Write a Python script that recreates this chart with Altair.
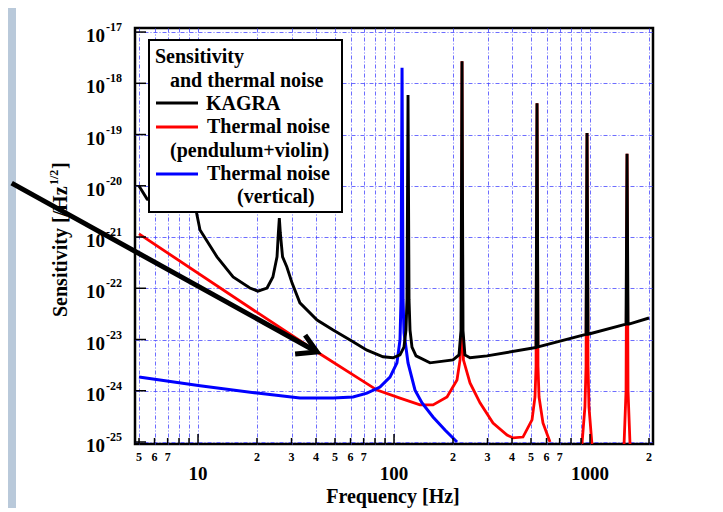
import altair as alt
import pandas as pd

FONT = "Liberation Serif"

# ---------------- data ----------------
kagra_freq = [5.0, 5.5, 7.63, 9.77, 9.88, 10.24, 12.5, 15.1, 18.4, 20.2, 22.5, 24.1, 25.3, 25.7,
              26.0, 26.3, 27.0, 28.4, 30.2, 33.1, 40.5, 48.9, 59.7, 72.8, 87.9, 98.8, 107.3, 112.4,
              115.1, 116.5, 117.9, 119.3, 120.7, 123.5, 129.5, 152.6, 200.0, 214.6, 219.7, 222.3,
              224.9, 230.0, 244.2, 298.0, 530.5, 536.6, 542.8, 942.0, 954.5, 965.6, 977.0, 988.0,
              1509.0, 1527.0, 1545.0, 1563.0, 1581.0, 2000.0]
kagra_sens = [9.9e-21, 5.5e-21, 4.4e-21, 3.4e-21, 2.7e-21, 1.37e-21, 4.1e-22, 1.66e-22, 1.01e-22,
              8.8e-23, 1.01e-22, 1.66e-22, 4.1e-22, 1.2e-21, 2.35e-21, 1.2e-21, 4.1e-22, 2.6e-22,
              1.26e-22, 5.2e-23, 2.4e-23, 1.53e-23, 9.8e-24, 6.2e-24, 4.6e-24, 4.4e-24, 5.0e-24,
              7.1e-24, 1.53e-23, 6.0e-23, 5.9e-19, 6.0e-23, 1.53e-23, 7.1e-24, 4.8e-24, 3.5e-24,
              4.0e-24, 5.0e-24, 1.5e-23, 2.7e-18, 1.5e-23, 5.0e-24, 4.4e-24, 4.8e-24, 7.0e-24,
              4.1e-19, 7.2e-24, 1.25e-23, 1.27e-23, 1.07e-19, 1.27e-23, 1.28e-23, 1.97e-23,
              2.0e-23, 4.2e-20, 2.0e-23, 2.0e-23, 2.63e-23]

vert_freq = [5.0, 10.24, 20.0, 33.1, 48.9, 61.8, 72.8, 84.8, 95.4, 103.5, 107.3, 108.6, 109.9,
             111.2, 112.5, 117.9, 128.0, 139.0, 158.1, 182.0, 209.6]
vert_sens = [1.85e-24, 1.25e-24, 9.0e-25, 7.2e-25, 7.2e-25, 7.55e-25, 9.0e-25, 1.18e-24, 1.85e-24,
             3.5e-24, 9.8e-24, 6.0e-23, 2.0e-18, 6.0e-23, 1.34e-23, 3.5e-24, 1.03e-24, 5.8e-25,
             3.07e-25, 1.71e-25, 1.0e-25]

pend_freq_a = [5.0, 20.2, 40.5, 81.9, 107.3, 135.7, 158.1, 186.4, 209.6, 217.2, 221.0, 222.3,
               223.6, 226.0, 244.2, 274.6, 320.0, 377.4, 404.6, 455.0, 506.0, 524.0, 530.5,
               536.6, 542.8, 549.5, 575.4, 625.0]
pend_sens_a = [1.15e-21, 3.3e-23, 5.7e-24, 1.03e-24, 7.2e-25, 5.3e-25, 5.3e-25, 7.55e-25,
               1.62e-24, 4.0e-24, 1.5e-23, 2.7e-18, 1.5e-23, 4.0e-24, 1.42e-24, 5.8e-25,
               2.35e-25, 1.37e-25, 1.2e-25, 1.25e-25, 2.7e-25, 7.55e-25, 3.0e-24, 4.1e-19,
               3.0e-24, 7.55e-25, 2.35e-25, 1.0e-25]
pend_freq_b = [910.0, 942.0, 954.5, 965.6, 977.0, 988.0, 1023.0]
pend_sens_b = [9.1e-26, 4.8e-25, 3.0e-24, 1.07e-19, 3.0e-24, 4.8e-25, 9.1e-26]
pend_freq_c = [1492.0, 1527.0, 1545.0, 1563.0, 1600.0]
pend_sens_c = [9.1e-26, 1.0e-24, 4.2e-20, 1.0e-24, 9.1e-26]

arrow_freq = [1.12, 40.5]
arrow_sens = [1.13e-20, 5.7e-24]
arrowhead_freq = [35.2, 40.5, 31.3]
arrowhead_sens = [1.22e-23, 5.7e-24, 5.21e-24]

grid_freq = [5, 6, 7, 8, 9, 10, 20, 30, 40, 50, 60, 70, 80, 90, 100, 200, 300, 400, 500,
             600, 700, 800, 900, 1000, 2000]
major_freq = [10, 100, 1000]
minor_freq = [f for f in grid_freq if f not in major_freq]
small_label_freq = [5, 6, 7, 20, 30, 40, 50, 60, 70, 200, 300, 400, 500, 600, 700, 2000]
small_label_text = ["5", "6", "7", "2", "3", "4", "5", "6", "7", "2", "3", "4", "5", "6", "7", "2"]
big_label_text = ["10", "100", "1000"]
decade_exp = [-25, -24, -23, -22, -21, -20, -19, -18, -17]

legend_title = ["Sensitivity", "and thermal noise"]
series_label = ["KAGRA", "Thermal noise", "Thermal noise"]
series_sub = ["", "(pendulum+violin)", "(vertical)"]
series_color = ["#000000", "#ff0000", "#0000ff"]

x_title = "Frequency [Hz]"
y_title = ["Sensitivity [/Hz", "1/2", "]"]

# ---------------- frames ----------------
def curve(f, s, seg=0):
    return pd.DataFrame({"freq": f, "sens": s, "seg": seg, "order": list(range(len(f)))})

kagra_df = curve(kagra_freq, kagra_sens)
vert_df = curve(vert_freq, vert_sens)
pend_df = pd.concat([curve(pend_freq_a, pend_sens_a, 1), curve(pend_freq_b, pend_sens_b, 2),
                     curve(pend_freq_c, pend_sens_c, 3)])
arrow_df = pd.concat([curve(arrow_freq, arrow_sens, 1), curve(arrowhead_freq, arrowhead_sens, 2)])
decade_df = pd.DataFrame({"sens": [10.0 ** e for e in decade_exp],
                          "base": ["10"] * len(decade_exp),
                          "sup": [str(e) for e in decade_exp]})
minor_df = pd.DataFrame({"freq": minor_freq})
major_df = pd.DataFrame({"freq": major_freq, "label": big_label_text})
small_lab_df = pd.DataFrame({"freq": small_label_freq, "label": small_label_text})
one = pd.DataFrame({"v": [0]})

W, H = 518, 416
x_scale = alt.Scale(type="log", domain=[4.77, 2096], nice=False)
y_scale = alt.Scale(type="log", domain=[9.14e-26, 1.2e-17], nice=False)
grid_style = dict(grid=True, labels=False, ticks=False, domain=False, title=None,
                  gridColor="#4848ff", gridDash=[4, 2, 1, 2], gridWidth=1, gridOpacity=0.8)
X = alt.X("freq:Q", scale=x_scale, axis=alt.Axis(values=grid_freq, **grid_style))
Y = alt.Y("sens:Q", scale=y_scale,
          axis=alt.Axis(values=[10.0 ** e for e in decade_exp], **grid_style))

layers = []
# slide background strip at far left
layers.append(alt.Chart(one).mark_rect(fill="#b9c9da").encode(
    x=alt.value(-127), x2=alt.value(-119), y=alt.value(-20), y2=alt.value(H + 70)))

layers.append(alt.Chart(pend_df).mark_line(color=series_color[1], strokeWidth=2.8, clip=True)
              .encode(x=X, y=Y, detail="seg:N", order="order:Q"))
layers.append(alt.Chart(vert_df).mark_line(color=series_color[2], strokeWidth=3, clip=True)
              .encode(x=X, y=Y, order="order:Q"))
layers.append(alt.Chart(kagra_df).mark_line(color=series_color[0], strokeWidth=2.9, clip=True)
              .encode(x=X, y=Y, order="order:Q"))

# inside ticks
layers.append(alt.Chart(minor_df).mark_rule(color="black", strokeWidth=1.5).encode(
    x=X, y=alt.value(H), y2=alt.value(H - 6)))
layers.append(alt.Chart(major_df).mark_rule(color="black", strokeWidth=1.5).encode(
    x=X, y=alt.value(H), y2=alt.value(H - 10)))
layers.append(alt.Chart(decade_df).mark_rule(color="black", strokeWidth=1.5).encode(
    y=Y, x=alt.value(0), x2=alt.value(11)))

# tick labels
layers.append(alt.Chart(small_lab_df).mark_text(font=FONT, fontSize=12, fontWeight="bold",
                                                baseline="middle", color="black").encode(
    x=X, y=alt.value(H + 13), text="label:N"))
layers.append(alt.Chart(major_df).mark_text(font=FONT, fontSize=19, fontWeight="bold",
                                            baseline="middle", color="black").encode(
    x=X, y=alt.value(H + 30), text="label:N"))
layers.append(alt.Chart(decade_df).mark_text(font=FONT, fontSize=19, fontWeight="bold",
                                             align="right", baseline="middle", dy=4,
                                             color="black").encode(
    y=Y, x=alt.value(-30), text="base:N"))
layers.append(alt.Chart(decade_df).mark_text(font=FONT, fontSize=12, fontWeight="bold",
                                             align="left", baseline="middle", dy=-5,
                                             color="black").encode(
    y=Y, x=alt.value(-29), text="sup:N"))

# axis titles
layers.append(alt.Chart(one).mark_text(font=FONT, fontSize=20, fontWeight="bold",
                                       align="center", baseline="alphabetic",
                                       color="black").encode(
    x=alt.value(258), y=alt.value(H + 59), text=alt.value(x_title)))
layers.append(alt.Chart(one).mark_text(font=FONT, fontSize=20, fontWeight="bold", angle=270,
                                       align="left", baseline="alphabetic",
                                       color="black").encode(
    x=alt.value(-68), y=alt.value(289), text=alt.value(y_title[0])))
layers.append(alt.Chart(one).mark_text(font=FONT, fontSize=12, fontWeight="bold", angle=270,
                                       align="left", baseline="alphabetic",
                                       color="black").encode(
    x=alt.value(-77), y=alt.value(157), text=alt.value(y_title[1])))
layers.append(alt.Chart(one).mark_text(font=FONT, fontSize=20, fontWeight="bold", angle=270,
                                       align="left", baseline="alphabetic",
                                       color="black").encode(
    x=alt.value(-68), y=alt.value(141), text=alt.value(y_title[2])))

# legend box
layers.append(alt.Chart(one).mark_rect(fill="white", stroke="black", strokeWidth=2).encode(
    x=alt.value(14), x2=alt.value(207), y=alt.value(12), y2=alt.value(184)))
legend_texts = [(legend_title[0], 20, 35), (legend_title[1], 35, 59),
                (series_label[0], 71, 82), (series_label[1], 72, 105),
                (series_sub[1], 35, 129), (series_label[2], 72, 152), (series_sub[2], 102, 175)]
for txt, lx, ly in legend_texts:
    layers.append(alt.Chart(one).mark_text(font=FONT, fontSize=20, fontWeight="bold",
                                           align="left", baseline="alphabetic",
                                           color="black").encode(
        x=alt.value(lx), y=alt.value(ly), text=alt.value(txt)))
for col, ly in zip(series_color, [75, 99, 146]):
    layers.append(alt.Chart(one).mark_rule(color=col, strokeWidth=3.2).encode(
        x=alt.value(21), x2=alt.value(63), y=alt.value(ly)))

# annotation arrow
layers.append(alt.Chart(arrow_df).mark_line(color="black", strokeWidth=5, clip=False,
                                            strokeJoin="miter", strokeCap="butt").encode(
    x=X, y=Y, detail="seg:N", order="order:Q"))

chart = alt.layer(*layers).properties(
    width=W, height=H,
    autosize=alt.AutoSizeParams(type="none"),
    padding={"left": 127, "top": 20, "right": 62, "bottom": 64},
).configure(background="white").configure_view(stroke="black", strokeWidth=2.5)

chart.save("out.html", embed_options={"renderer": "svg", "actions": False})
